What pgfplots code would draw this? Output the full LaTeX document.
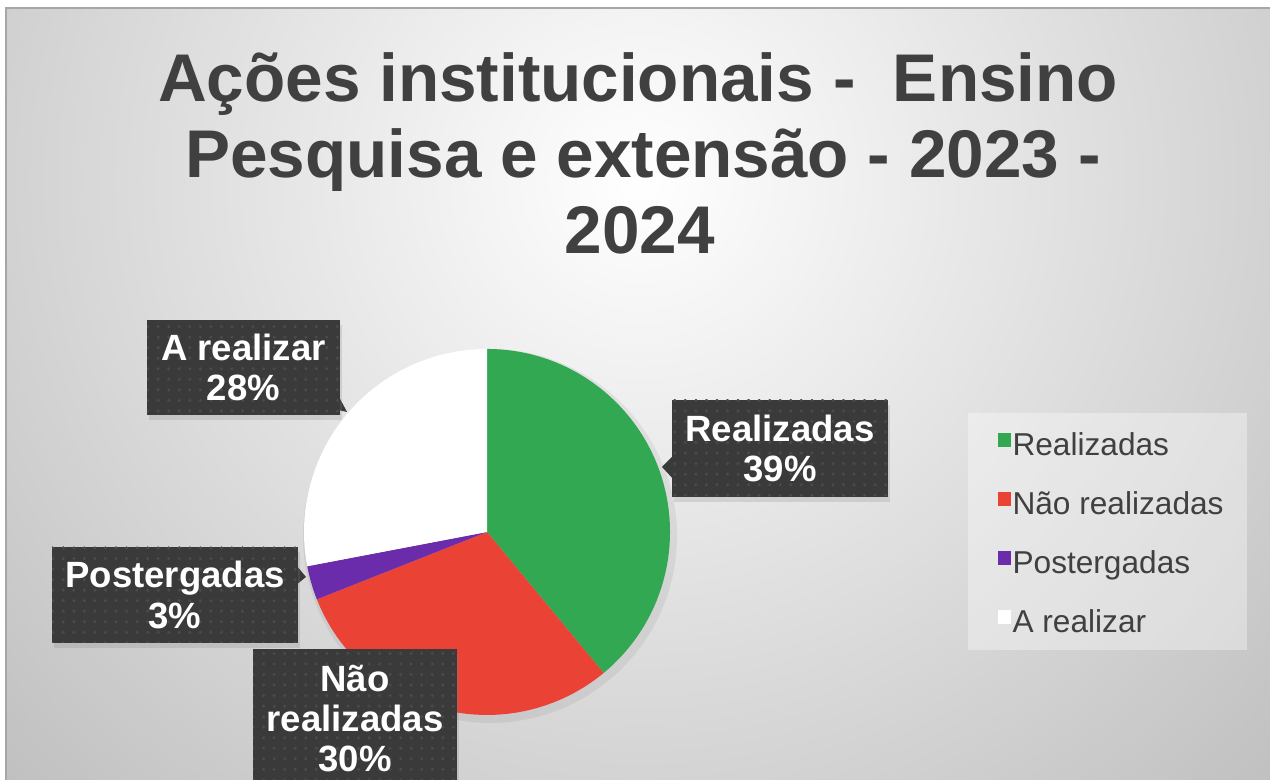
\documentclass[border=0pt]{standalone}
\usepackage{pgfplots}
\pgfplotsset{compat=1.18}
\usepackage{pgfplotstable}
\usepackage{fontspec}
\setmainfont{Liberation Sans}
\usetikzlibrary{shadows,patterns}

\definecolor{cReal}{HTML}{33A852}
\definecolor{cNao}{HTML}{EA4335}
\definecolor{cPost}{HTML}{6A2CAB}
\definecolor{cArea}{HTML}{FFFFFF}
\definecolor{txt}{HTML}{404040}
\definecolor{lbl}{HTML}{3A3A3A}
\definecolor{dots}{HTML}{4A4A4A}
\definecolor{bgout}{HTML}{BCBCBC}

% fatias da pizza (%)
\pgfplotstableread{
nome valor
Realizadas 39
NaoRealizadas 30
Postergadas 3
ARealizar 28
}\dados

\begin{document}
\begin{tikzpicture}
\pgfplotstablegetelem{0}{valor}\of\dados \let\vA\pgfplotsretval
\pgfplotstablegetelem{1}{valor}\of\dados \let\vB\pgfplotsretval
\pgfplotstablegetelem{2}{valor}\of\dados \let\vC\pgfplotsretval
\pgfplotstablegetelem{3}{valor}\of\dados \let\vD\pgfplotsretval
\pgfmathsetmacro{\eA}{90-3.6*\vA}
\pgfmathsetmacro{\eB}{\eA-3.6*\vB}
\pgfmathsetmacro{\eC}{\eB-3.6*\vC}
\pgfmathsetmacro{\eD}{\eC-3.6*\vD}
\def\R{1.83cm}
\begin{axis}[
    width=12.7cm, height=7.8cm, scale only axis,
    xmin=0, xmax=1270, ymin=0, ymax=780,
    hide axis, clip=false,
    legend style={at={(0.785,0.4494)}, anchor=north west,
        draw=none, fill=none, inner sep=0pt, row sep=0.27cm, column sep=0.015cm,
        font=\fontsize{9}{10}\selectfont, text=txt,
        nodes={inner sep=0pt, text height=0.25cm, text depth=0.07cm}},
    legend cell align=left,
]
\coordinate (SW) at (axis cs:0,0);
\coordinate (NE) at (axis cs:1270,780);
% fundo
\fill[white] (axis cs:0,0) rectangle (axis cs:1270,780);
\begin{scope}
\clip (axis cs:6,0) rectangle (axis cs:1270,772);
\shade[inner color=white, outer color=bgout] (axis cs:-300,-320) rectangle (axis cs:1580,1520);
\end{scope}
\draw[gray!70, line width=0.6pt] (axis cs:6,0) -- (axis cs:6,772) -- (axis cs:1270,772);
% titulo
\tikzset{tit/.style={anchor=base, text=txt, font=\fontsize{19.2}{20}\selectfont\bfseries}}
\node[tit] at (axis cs:638,678) {Ações institucionais - \ Ensino};
\node[tit] at (axis cs:643,602) {Pesquisa e extensão - 2023 -};
\node[tit] at (axis cs:640,526) {2024};
% sombra
\fill[black, opacity=0.06] (axis cs:490,244) circle[radius=1.87cm];
% pizza
\fill[cReal] (axis cs:487,248) -- ++(90:\R) arc[start angle=90, end angle=\eA, radius=\R] -- cycle;
\fill[cNao] (axis cs:487,248) -- ++(\eA:\R) arc[start angle=\eA, end angle=\eB, radius=\R] -- cycle;
\fill[cPost] (axis cs:487,248) -- ++(\eB:\R) arc[start angle=\eB, end angle=\eC, radius=\R] -- cycle;
\fill[cArea] (axis cs:487,248) -- ++(\eC:\R) arc[start angle=\eC, end angle=\eD, radius=\R] -- cycle;
% rotulos
\tikzset{rot/.style={fill=lbl, text=white, align=center, inner sep=0pt,
    font=\fontsize{10.4}{11.4}\selectfont\bfseries,
    drop shadow={opacity=0.22, shadow xshift=0.02cm, shadow yshift=-0.05cm},
    postaction={pattern=dots, pattern color=dots}}}
\fill[lbl] (axis cs:338,385) -- (axis cs:347,368) -- (axis cs:338,370) -- cycle;
\node[rot, minimum width=1.93cm, minimum height=0.95cm] at (axis cs:243.5,412.5) {A realizar\\28\%};
\fill[lbl] (axis cs:674,325) -- (axis cs:662,313) -- (axis cs:674,300) -- cycle;
\node[rot, minimum width=2.16cm, minimum height=0.97cm] at (axis cs:780,331.5) {Realizadas\\39\%};
\fill[lbl] (axis cs:296,215) -- (axis cs:306,203) -- (axis cs:296,195) -- cycle;
\node[rot, minimum width=2.46cm, minimum height=0.96cm] at (axis cs:175,185) {Postergadas\\3\%};
\node[rot, minimum width=2.04cm, minimum height=1.40cm, anchor=north] at (axis cs:355,132) {Não\\realizadas\\30\%};
% legenda
\fill[white, opacity=0.35] (axis cs:968,130) rectangle (axis cs:1247,367);
\addlegendimage{legend image code/.code={\fill[cReal] (0cm,0cm) rectangle (0.12cm,0.12cm);}}
\addlegendentry{Realizadas}
\addlegendimage{legend image code/.code={\fill[cNao] (0cm,0cm) rectangle (0.12cm,0.12cm);}}
\addlegendentry{Não realizadas}
\addlegendimage{legend image code/.code={\fill[cPost] (0cm,0cm) rectangle (0.12cm,0.12cm);}}
\addlegendentry{Postergadas}
\addlegendimage{legend image code/.code={\fill[cArea] (0cm,0cm) rectangle (0.12cm,0.12cm);}}
\addlegendentry{A realizar}
\end{axis}
\pgfresetboundingbox
\path[use as bounding box] (SW) rectangle (NE);
\end{tikzpicture}
\end{document}
